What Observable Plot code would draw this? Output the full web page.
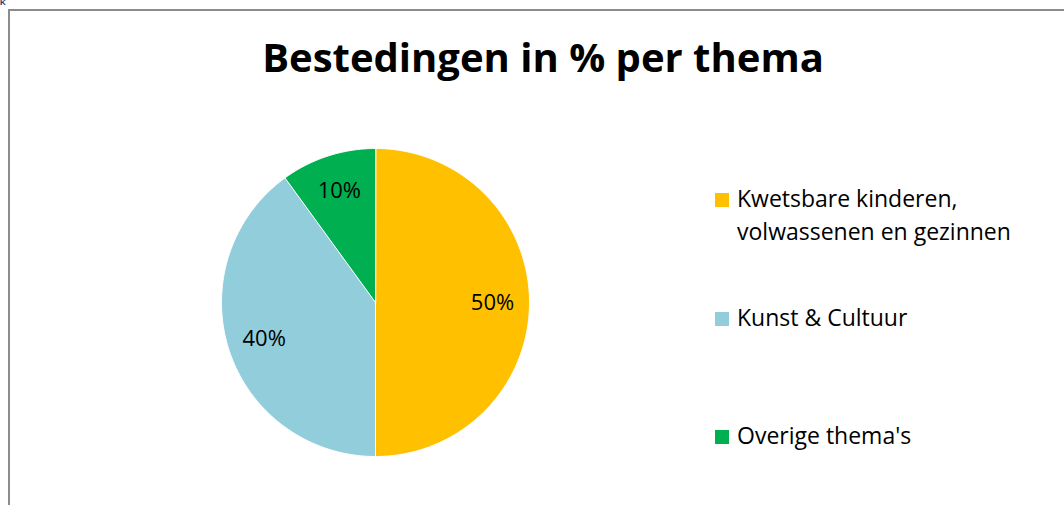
<!DOCTYPE html>
<html>
<head>
<meta charset="utf-8">
<script src="https://cdn.jsdelivr.net/npm/d3@7"></script>
<script src="https://cdn.jsdelivr.net/npm/@observablehq/plot@0.6"></script>
<style>
  html, body { margin: 0; padding: 0; background: #fff; width: 1064px; height: 505px; overflow: hidden; }
  #wrap { position: relative; width: 1064px; height: 505px; font-family: "Open Sans", Lato, sans-serif; }
  #frame { position: absolute; left: 8px; top: 9px; width: 1100px; height: 600px; border-left: 2px solid #8c8c8c; border-top: 2px solid #8c8c8c; }
  #corner { position: absolute; left: 0px; top: -1px; font: bold 8px "Liberation Sans", Arial, sans-serif; line-height: 8px; color: #1f3864; }
  #chart { position: absolute; left: 0; top: 0; }
  #title { position: absolute; left: 0; width: 1086px; top: 32px; text-align: center; font-weight: bold; font-size: 40px; line-height: 50px; color: #000; white-space: nowrap; }
  #legend { position: absolute; left: 715px; top: 0; }
  .item { position: absolute; left: 0; white-space: nowrap; font-size: 23px; color: #000; }
  .sw { position: absolute; left: 0; width: 14px; height: 14px; }
  .txt { position: absolute; left: 22px; line-height: 33px; }
</style>
</head>
<body>
<div id="wrap">
  <div id="corner">K</div>
  <div id="frame"></div>
  <div id="chart"></div>
  <div id="title">Bestedingen in % per thema</div>
  <div id="legend"></div>
</div>
<script>
const categories = ["Kwetsbare kinderen, volwassenen en gezinnen", "Kunst & Cultuur", "Overige thema's"];
const legendLines = [["Kwetsbare kinderen,", "volwassenen en gezinnen"], ["Kunst & Cultuur"], ["Overige thema's"]];
const values = [50, 40, 10];
const labels = ["50%", "40%", "10%"];
const colors = ["#FFC000", "#92CDDC", "#00B050"];

const rows = categories.map((c, i) => ({category: c, value: values[i], label: labels[i]}));
const arcs = d3.pie().sort(null).value(d => d.value)(rows);

// slice outlines in unit-circle data space (y up)
const pts = [];
for (const a of arcs) {
  const n = Math.max(2, Math.ceil((a.endAngle - a.startAngle) / 0.01));
  pts.push({category: a.data.category, x: 0, y: 0});
  for (let k = 0; k <= n; k++) {
    const t = a.startAngle + (a.endAngle - a.startAngle) * k / n;
    pts.push({category: a.data.category, x: Math.sin(t), y: Math.cos(t)});
  }
}
const labelPts = arcs.map(a => {
  const m = (a.startAngle + a.endAngle) / 2;
  return {label: a.data.label, x: 0.76 * Math.sin(m), y: 0.76 * Math.cos(m)};
});

const plot = Plot.plot({
  width: 1064,
  height: 505,
  marginLeft: 221,
  marginRight: 535,
  marginTop: 148,
  marginBottom: 49,
  style: {background: "transparent", fontFamily: "'Open Sans', Lato, sans-serif"},
  x: {domain: [-1, 1], axis: null},
  y: {domain: [-1, 1], axis: null},
  color: {domain: categories, range: colors},
  marks: [
    Plot.line(pts, {x: "x", y: "y", z: "category", fill: "category", stroke: "#ffffff", strokeWidth: 1, curve: "linear-closed"}),
    Plot.text(labelPts, {x: "x", y: "y", text: "label", fontSize: 22, fill: "#000"})
  ]
});
document.getElementById("chart").appendChild(plot);

// legend
const legendTops = [193, 312, 430];
const legend = document.getElementById("legend");
categories.forEach((c, i) => {
  const item = document.createElement("div");
  item.className = "item";
  item.style.top = legendTops[i] + "px";
  const sw = document.createElement("div");
  sw.className = "sw";
  sw.style.background = colors[i];
  item.appendChild(sw);
  const txt = document.createElement("div");
  txt.className = "txt";
  txt.style.top = "-11px";
  txt.innerHTML = legendLines[i].map(s => s.replace(/&/g, "&amp;")).join("<br>");
  item.appendChild(txt);
  legend.appendChild(item);
});
</script>
</body>
</html>
